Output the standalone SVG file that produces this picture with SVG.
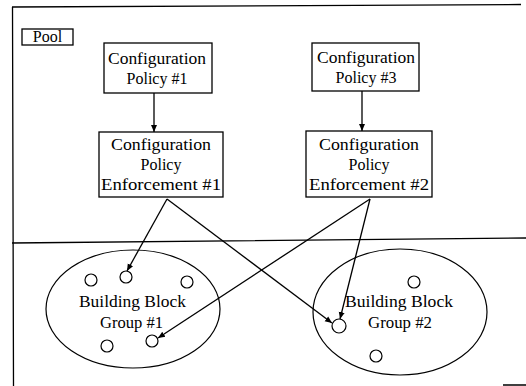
<svg xmlns="http://www.w3.org/2000/svg" width="526" height="386" viewBox="0 0 526 386">
<defs>
<marker id="ah" markerWidth="8" markerHeight="8" refX="7" refY="4" orient="auto" markerUnits="userSpaceOnUse">
<path d="M0,1 L7,4 L0,7 Z" fill="#000"/>
</marker>
<style>
.box{fill:#fff;stroke:#000;stroke-width:1.3}
.ln{fill:none;stroke:#000;stroke-width:1.3}
.t{font-family:"Liberation Serif","DejaVu Serif","Times New Roman",serif;font-size:16px;fill:#000;text-anchor:middle}
.c{fill:#fff;stroke:#000;stroke-width:1.2}
</style>
</defs>
<rect width="526" height="386" fill="#fff"/>
<g id="frame">
<path class="ln" d="M12,7 L521,4.5 M12.5,7 L13.5,386 M12,243 L526,238 M503,385 L526,385"/>
</g>
<g id="pool">
<rect class="box" x="22" y="29" width="51" height="16"/>
<text class="t" x="47.5" y="42" font-size="15">Pool</text>
</g>
<g id="policy1">
<rect class="box" x="104" y="43" width="108" height="50"/>
<text class="t" x="157" y="64" textLength="98" lengthAdjust="spacingAndGlyphs">Configuration</text>
<text class="t" x="157" y="84">Policy #1</text>
</g>
<g id="policy3">
<rect class="box" x="312" y="43" width="107" height="48"/>
<text class="t" x="366" y="63" textLength="98" lengthAdjust="spacingAndGlyphs">Configuration</text>
<text class="t" x="366" y="83">Policy #3</text>
</g>
<g id="enf1">
<rect class="box" x="99" y="132" width="124" height="65"/>
<text class="t" x="161" y="150" textLength="100" lengthAdjust="spacingAndGlyphs">Configuration</text>
<text class="t" x="161" y="170">Policy</text>
<text class="t" x="161" y="190" textLength="120" lengthAdjust="spacingAndGlyphs">Enforcement #1</text>
</g>
<g id="enf2">
<rect class="box" x="306" y="131" width="126" height="66"/>
<text class="t" x="369" y="150" textLength="100" lengthAdjust="spacingAndGlyphs">Configuration</text>
<text class="t" x="369" y="170">Policy</text>
<text class="t" x="369" y="190" textLength="120" lengthAdjust="spacingAndGlyphs">Enforcement #2</text>
</g>
<g id="group1">
<ellipse class="c" cx="133" cy="309" rx="87" ry="59"/>
<circle class="c" cx="91" cy="280" r="6"/>
<circle class="c" cx="126" cy="277" r="6"/>
<circle class="c" cx="187" cy="282" r="6"/>
<circle class="c" cx="107" cy="346" r="6"/>
<circle class="c" cx="152" cy="341" r="6"/>
<text class="t" x="132.5" y="307" textLength="107" lengthAdjust="spacingAndGlyphs">Building Block</text>
<text class="t" x="131.5" y="328" textLength="63" lengthAdjust="spacingAndGlyphs">Group #1</text>
</g>
<g id="group2">
<ellipse class="c" cx="400" cy="312" rx="87" ry="63"/>
<circle class="c" cx="414" cy="282" r="6"/>
<circle class="c" cx="339" cy="326" r="7"/>
<circle class="c" cx="376" cy="356" r="6"/>
<text class="t" x="399" y="307" textLength="108" lengthAdjust="spacingAndGlyphs">Building Block</text>
<text class="t" x="400" y="328" textLength="64" lengthAdjust="spacingAndGlyphs">Group #2</text>
</g>
<g id="connectors">
<line class="ln" x1="154" y1="93" x2="154" y2="132" marker-end="url(#ah)"/>
<line class="ln" x1="362" y1="91" x2="362" y2="131" stroke-width="2" marker-end="url(#ah)"/>
<line class="ln" x1="167" y1="199" x2="127" y2="271" marker-end="url(#ah)"/>
<line class="ln" x1="167" y1="199" x2="332" y2="323" marker-end="url(#ah)"/>
<line class="ln" x1="370" y1="199" x2="158" y2="338" marker-end="url(#ah)"/>
<line class="ln" x1="370" y1="199" x2="340" y2="319" marker-end="url(#ah)"/>
</g>
</svg>
